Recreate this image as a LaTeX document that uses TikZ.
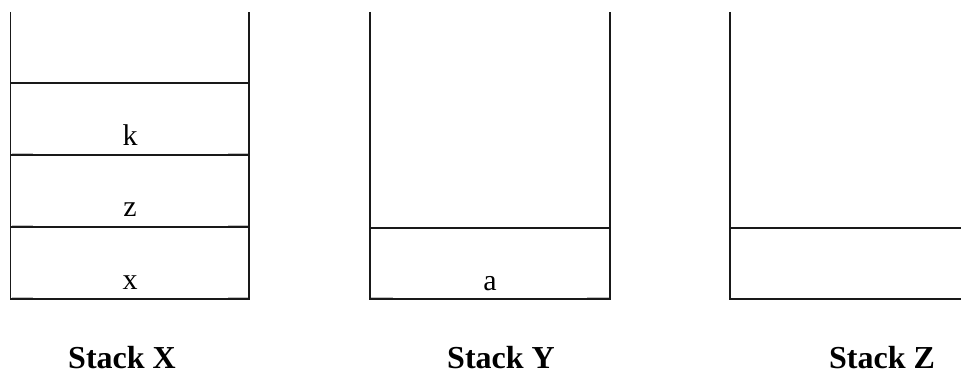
\documentclass[tikz,border=0pt]{standalone}
\usepackage{fontspec}
\setmainfont{Liberation Serif}
\usetikzlibrary{positioning}

\begin{document}
\begin{tikzpicture}[
    x=1pt, y=-1pt,
    wall/.style={line width=1.8pt, black!90},
    slot/.style={line width=1.6pt, black!90},
    seam/.style={line width=1.1pt, gray!50},
    entry/.style={anchor=base, inner sep=0pt, font=\fontsize{30}{36}\selectfont},
    stacklabel/.style={anchor=base, inner sep=0pt, font=\fontsize{32}{38}\selectfont\bfseries}
  ]
    \useasboundingbox (0,0) rectangle (961,374);

    % Stack X
    \draw[wall] (10.5,12) -- (10.5,299) -- (249,299) -- (249,12);
    \foreach \yy in {83,155,227}
      \draw[slot] (10.5,\yy) -- (249,\yy);
    \foreach \yy in {155,227,299} {
      \draw[seam] (11.5,\yy-1.4) -- (33,\yy-1.4);
      \draw[seam] (228,\yy-1.4) -- (248,\yy-1.4);
    }
    \node[entry] (cellk) at (130,146) {k};
    \node[entry] (cellz) at (130,217) {z};
    \node[entry] (cellx) at (130,289) {x};

    % Stack Y
    \draw[wall] (370,12) -- (370,299) -- (610,299) -- (610,12);
    \draw[slot] (370,228) -- (610,228);
    \draw[seam] (371,297.6) -- (393,297.6);
    \draw[seam] (587,297.6) -- (609,297.6);
    \node[entry] (cella) at (490,290) {a};

    % Stack Z
    \draw[wall] (730,12) -- (730,299) -- (961,299);
    \draw[slot] (730,228) -- (961,228);

    % Labels
    \node[stacklabel] (lblX) at (122,368) {Stack X};
    \node[stacklabel] (lblY) at (501,368) {Stack Y};
    \node[stacklabel] (lblZ) at (882,368) {Stack Z};

  \end{tikzpicture}
\end{document}
